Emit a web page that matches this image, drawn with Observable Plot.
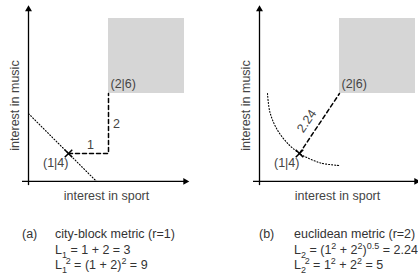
<!DOCTYPE html>
<html><head><meta charset="utf-8">
<script src="https://cdn.jsdelivr.net/npm/d3@7"></script>
<script src="https://cdn.jsdelivr.net/npm/@observablehq/plot@0.6"></script>
<style>
body{margin:0;background:#fff;font-family:"Liberation Sans",Arial,sans-serif;}
#wrap{display:flex;width:418px;height:277px;overflow:hidden;}
.col{width:209px;position:relative;height:277px;}
.col svg{position:absolute;left:0;top:0;overflow:visible;}
.cap{position:absolute;font-size:12.5px;line-height:15.5px;color:#333;white-space:nowrap;}
sub,sup{font-size:0.72em;line-height:0;}
.st{margin-left:-0.15em;}
</style></head>
<body><div id="wrap"></div>
<script>
// ---- data (diagram units: sport on x, music on y) ----
const pointSport = [1, 2];
const pointMusic = [4, 6];
const pointLabels = ["(1|4)", "(2|6)"];
const labelSport = [0.68, 2.05];
const labelMusic = [3.67, 6.33];
const regionSport = [2, 3.9];
const regionMusic = [6, 8.5];
const cityBlockSport = [1, 2, 2];
const cityBlockMusic = [4, 4, 6];
const stepLabels = ["1", "2"];
const stepLabelSport = [1.55, 2.2];
const stepLabelMusic = [4.3, 4.97];
const isoLineSport = [0, 1.7];
const isoLineMusic = [5.33, 3.07];
const arcSport = [0.2, 0.26, 0.44, 0.73, 1.0, 1.1, 1.54, 2.0];
const arcMusic = [6.0, 5.38, 4.8, 4.3, 4.0, 3.92, 3.68, 3.6];
const euclidLabel = "2.24";
const euclidLabelSport = [1.18];
const euclidLabelMusic = [5.08];
const axisSportExtent = [-0.15, 4.0];
const axisMusicExtent = [2.93, 8.93];
const axisMusicAt = 3.07;
const axisSportAt = 0;
const axisTitles = ["interest in sport", "interest in music"];
const axisTitleSport = [1.95, -0.33];
const axisTitleMusic = [2.6, 5.6];

const zip = (xs, ys, extra = {}) => xs.map((x, i) => ({x, y: ys[i], ...Object.fromEntries(Object.entries(extra).map(([k, v]) => [k, v[i]]))}));

function panel(kind, xRange) {
  const font = "Liberation Sans, Arial, sans-serif";
  const txt = {fontFamily: font, fontSize: 12.5, fill: "#444"};
  const marks = [
    Plot.rect([{x1: regionSport[0], x2: regionSport[1], y1: regionMusic[0], y2: regionMusic[1]}],
      {x1: "x1", x2: "x2", y1: "y1", y2: "y2", fill: "#d6d6d6"}),
    Plot.ruleY([axisMusicAt], {x1: axisSportExtent[0], x2: axisSportExtent[1] - 0.1, stroke: "#000", strokeWidth: 1.3}),
    Plot.ruleX([axisSportAt], {y1: axisMusicExtent[0], y2: axisMusicExtent[1] - 0.15, stroke: "#000", strokeWidth: 1.3}),
    Plot.dot([{x: axisSportExtent[1] - 0.08, y: axisMusicAt}], {x: "x", y: "y", symbol: "triangle2", r: 3.3, fill: "#000", rotate: 90}),
    Plot.dot([{x: axisSportAt, y: axisMusicExtent[1] - 0.12}], {x: "x", y: "y", symbol: "triangle2", r: 3.3, fill: "#000"}),
    Plot.text([axisTitles[0]], {x: axisTitleSport[0], y: axisTitleMusic[0], ...txt}),
    Plot.text([axisTitles[1]], {x: axisTitleSport[1], y: axisTitleMusic[1], rotate: -90, ...txt}),
  ];
  if (kind === "a") {
    marks.push(
      Plot.line(zip(isoLineSport, isoLineMusic), {x: "x", y: "y", stroke: "#000", strokeWidth: 1.1, strokeDasharray: "1,2"}),
      Plot.line(zip(cityBlockSport, cityBlockMusic), {x: "x", y: "y", stroke: "#000", strokeWidth: 1.5, strokeDasharray: "4,3"}),
      Plot.text(zip(stepLabelSport, stepLabelMusic, {t: stepLabels}), {x: "x", y: "y", text: "t", ...txt})
    );
  } else {
    marks.push(
      Plot.line(zip(arcSport, arcMusic), {x: "x", y: "y", curve: "catmull-rom", stroke: "#000", strokeWidth: 1.1, strokeDasharray: "1,2"}),
      Plot.line(zip(pointSport, pointMusic), {x: "x", y: "y", stroke: "#000", strokeWidth: 1.5, strokeDasharray: "4,3"}),
      Plot.text([euclidLabel], {x: euclidLabelSport[0], y: euclidLabelMusic[0], rotate: -56, ...txt})
    );
  }
  marks.push(
    Plot.dot([{x: pointSport[0], y: pointMusic[0]}], {x: "x", y: "y", symbol: "times", r: 3.5, stroke: "#000", strokeWidth: 1.5}),
    Plot.text([pointLabels[0]], {x: labelSport[0], y: labelMusic[0], ...txt}),
    Plot.text([pointLabels[1]], {x: labelSport[1], y: labelMusic[1], textAnchor: "start", ...txt})
  );
  return Plot.plot({
    width: 209, height: 205,
    x: {domain: [0, 4], range: xRange, axis: null},
    y: {domain: [3, 9], range: [183, 3], axis: null},
    style: {background: "transparent", overflow: "visible"},
    marks
  });
}

const wrap = document.getElementById("wrap");
const captions = {
  a: {tag: "(a)", tagLeft: 22, textLeft: 55,
      html: 'city-block metric (r=1)<br>L<sub>1</sub> = 1 + 2 = 3<br>L<sub>1</sub><sup class="st">2</sup> = (1 + 2)<sup>2</sup> = 9'},
  b: {tag: "(b)", tagLeft: 50, textLeft: 85,
      html: 'euclidean metric (r=2)<br>L<sub>2</sub> = (1<sup>2</sup> + 2<sup>2</sup>)<sup>0.5</sup> = 2.24<br>L<sub>2</sub><sup class="st">2</sup> = 1<sup>2</sup> + 2<sup>2</sup> = 5'}
};
[["a", [28, 188]], ["b", [50, 210]]].forEach(([k, r]) => {
  const col = document.createElement("div");
  col.className = "col";
  col.appendChild(panel(k, r));
  const t = document.createElement("div");
  t.className = "cap"; t.style.left = captions[k].tagLeft + "px"; t.style.top = "227px";
  t.textContent = captions[k].tag;
  const c = document.createElement("div");
  c.className = "cap"; c.style.left = captions[k].textLeft + "px"; c.style.top = "227px";
  c.innerHTML = captions[k].html;
  col.appendChild(t); col.appendChild(c);
  wrap.appendChild(col);
});
</script></body></html>
